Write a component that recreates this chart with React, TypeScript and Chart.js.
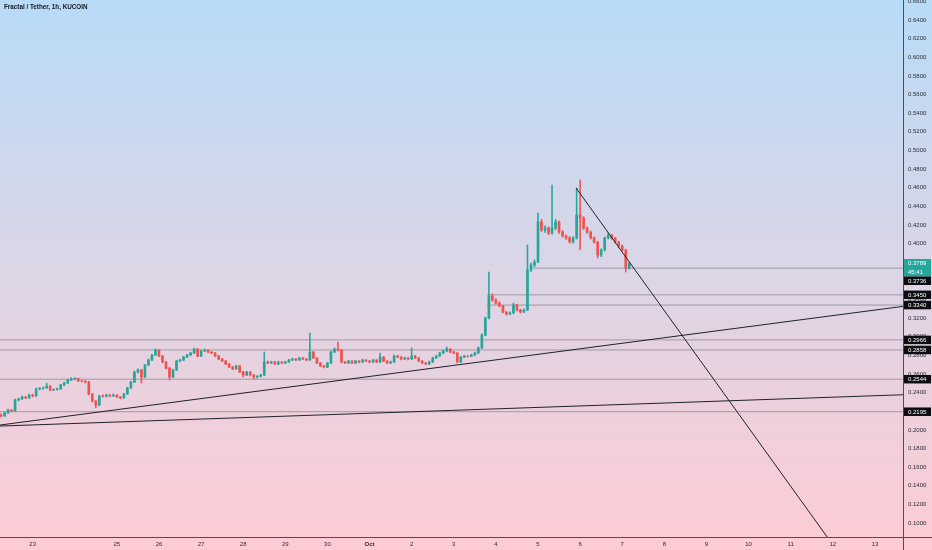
import React, { useEffect, useRef } from 'react';
import { Chart, registerables } from 'chart.js';

Chart.register(...registerables);

const TITLE = 'Fractal / Tether, 1h, KUCOIN';

// time axis: hours from Sep 23 00:00
const X_MIN = -18.6;
const X_MAX = 496;
const Y_MIN = 0.085;
const Y_MAX = 0.6615;

const firstCandleHour = -18;
const candleHours = 2;

// [open, high, low, close]
const ohlc: [number, number, number, number][] = [
  [0.2160, 0.2172, 0.2140, 0.2149], [0.2149, 0.2190, 0.2145, 0.2181], [0.2181, 0.2222, 0.2176, 0.2213],
  [0.2213, 0.2220, 0.2195, 0.2203], [0.2203, 0.2330, 0.2198, 0.2321], [0.2321, 0.2342, 0.2310, 0.2332],
  [0.2332, 0.2362, 0.2325, 0.2353], [0.2353, 0.2360, 0.2335, 0.2342], [0.2342, 0.2385, 0.2338, 0.2374],
  [0.2374, 0.2380, 0.2355, 0.2364], [0.2364, 0.2448, 0.2360, 0.2439], [0.2439, 0.2455, 0.2430, 0.2445],
  [0.2445, 0.2460, 0.2436, 0.2450], [0.2450, 0.2503, 0.2445, 0.2471], [0.2471, 0.2476, 0.2420, 0.2428],
  [0.2428, 0.2442, 0.2420, 0.2432], [0.2432, 0.2448, 0.2425, 0.2439], [0.2439, 0.2490, 0.2434, 0.2482],
  [0.2482, 0.2512, 0.2475, 0.2503], [0.2503, 0.2545, 0.2498, 0.2535], [0.2535, 0.2560, 0.2528, 0.2546],
  [0.2546, 0.2562, 0.2538, 0.2550], [0.2550, 0.2556, 0.2518, 0.2525], [0.2525, 0.2535, 0.2515, 0.2522],
  [0.2522, 0.2530, 0.2505, 0.2514], [0.2514, 0.2520, 0.2375, 0.2385], [0.2385, 0.2392, 0.2298, 0.2310],
  [0.2310, 0.2318, 0.2235, 0.2267], [0.2267, 0.2372, 0.2260, 0.2364], [0.2364, 0.2375, 0.2350, 0.2360],
  [0.2360, 0.2384, 0.2352, 0.2374], [0.2374, 0.2380, 0.2355, 0.2364], [0.2364, 0.2385, 0.2358, 0.2374],
  [0.2374, 0.2380, 0.2345, 0.2353], [0.2353, 0.2360, 0.2335, 0.2342], [0.2342, 0.2392, 0.2338, 0.2385],
  [0.2385, 0.2458, 0.2380, 0.2450], [0.2450, 0.2522, 0.2445, 0.2514], [0.2514, 0.2630, 0.2508, 0.2621],
  [0.2621, 0.2655, 0.2612, 0.2643], [0.2643, 0.2650, 0.2503, 0.2568], [0.2568, 0.2705, 0.2560, 0.2696],
  [0.2696, 0.2760, 0.2690, 0.2750], [0.2750, 0.2812, 0.2742, 0.2804], [0.2804, 0.2870, 0.2798, 0.2857],
  [0.2857, 0.2862, 0.2785, 0.2793], [0.2793, 0.2800, 0.2720, 0.2729], [0.2729, 0.2736, 0.2655, 0.2664],
  [0.2664, 0.2672, 0.2535, 0.2568], [0.2568, 0.2650, 0.2560, 0.2643], [0.2643, 0.2748, 0.2636, 0.2739],
  [0.2739, 0.2760, 0.2730, 0.2750], [0.2750, 0.2790, 0.2742, 0.2782], [0.2782, 0.2812, 0.2775, 0.2804],
  [0.2804, 0.2834, 0.2797, 0.2825], [0.2825, 0.2879, 0.2818, 0.2868], [0.2868, 0.2874, 0.2785, 0.2793],
  [0.2793, 0.2856, 0.2786, 0.2847], [0.2847, 0.2868, 0.2840, 0.2857], [0.2857, 0.2863, 0.2828, 0.2836],
  [0.2836, 0.2842, 0.2818, 0.2825], [0.2825, 0.2830, 0.2786, 0.2793], [0.2793, 0.2800, 0.2753, 0.2761],
  [0.2761, 0.2768, 0.2732, 0.2739], [0.2739, 0.2745, 0.2700, 0.2707], [0.2707, 0.2714, 0.2668, 0.2675],
  [0.2675, 0.2682, 0.2646, 0.2654], [0.2654, 0.2695, 0.2648, 0.2686], [0.2686, 0.2692, 0.2613, 0.2621],
  [0.2621, 0.2628, 0.2568, 0.2589], [0.2589, 0.2630, 0.2582, 0.2621], [0.2621, 0.2626, 0.2580, 0.2589],
  [0.2589, 0.2595, 0.2546, 0.2568], [0.2568, 0.2584, 0.2556, 0.2575], [0.2575, 0.2598, 0.2568, 0.2589],
  [0.2589, 0.2836, 0.2582, 0.2729], [0.2729, 0.2740, 0.2710, 0.2718], [0.2718, 0.2738, 0.2712, 0.2729],
  [0.2729, 0.2735, 0.2700, 0.2707], [0.2707, 0.2738, 0.2702, 0.2729], [0.2729, 0.2736, 0.2710, 0.2718],
  [0.2718, 0.2738, 0.2712, 0.2729], [0.2729, 0.2758, 0.2723, 0.2750], [0.2750, 0.2770, 0.2744, 0.2761],
  [0.2761, 0.2768, 0.2742, 0.2750], [0.2750, 0.2780, 0.2745, 0.2772], [0.2772, 0.2778, 0.2753, 0.2761],
  [0.2761, 0.2766, 0.2742, 0.2750], [0.2750, 0.3040, 0.2745, 0.2836], [0.2836, 0.2842, 0.2765, 0.2772],
  [0.2772, 0.2778, 0.2710, 0.2718], [0.2718, 0.2724, 0.2678, 0.2686], [0.2686, 0.2692, 0.2666, 0.2675],
  [0.2675, 0.2726, 0.2668, 0.2718], [0.2718, 0.2845, 0.2712, 0.2836], [0.2836, 0.2878, 0.2830, 0.2868],
  [0.2868, 0.2943, 0.2848, 0.2857], [0.2857, 0.2862, 0.2720, 0.2729], [0.2729, 0.2735, 0.2710, 0.2718],
  [0.2718, 0.2748, 0.2712, 0.2739], [0.2739, 0.2745, 0.2710, 0.2718], [0.2718, 0.2748, 0.2712, 0.2739],
  [0.2739, 0.2745, 0.2720, 0.2729], [0.2729, 0.2758, 0.2722, 0.2750], [0.2750, 0.2756, 0.2732, 0.2739],
  [0.2739, 0.2745, 0.2720, 0.2729], [0.2729, 0.2758, 0.2722, 0.2750], [0.2750, 0.2755, 0.2720, 0.2729],
  [0.2729, 0.2825, 0.2722, 0.2782], [0.2782, 0.2788, 0.2732, 0.2739], [0.2739, 0.2745, 0.2710, 0.2718],
  [0.2718, 0.2738, 0.2712, 0.2729], [0.2729, 0.2802, 0.2722, 0.2793], [0.2793, 0.2800, 0.2775, 0.2782],
  [0.2782, 0.2788, 0.2752, 0.2761], [0.2761, 0.2780, 0.2755, 0.2772], [0.2772, 0.2778, 0.2752, 0.2761],
  [0.2761, 0.2879, 0.2755, 0.2793], [0.2793, 0.2800, 0.2765, 0.2772], [0.2772, 0.2778, 0.2732, 0.2739],
  [0.2739, 0.2745, 0.2710, 0.2718], [0.2718, 0.2724, 0.2700, 0.2707], [0.2707, 0.2738, 0.2702, 0.2729],
  [0.2729, 0.2780, 0.2722, 0.2772], [0.2772, 0.2802, 0.2765, 0.2793], [0.2793, 0.2834, 0.2786, 0.2825],
  [0.2825, 0.2856, 0.2818, 0.2847], [0.2847, 0.2890, 0.2840, 0.2868], [0.2868, 0.2874, 0.2828, 0.2836],
  [0.2836, 0.2842, 0.2818, 0.2825], [0.2825, 0.2830, 0.2718, 0.2729], [0.2729, 0.2790, 0.2722, 0.2782],
  [0.2782, 0.2800, 0.2776, 0.2793], [0.2793, 0.2798, 0.2782, 0.2790], [0.2790, 0.2812, 0.2785, 0.2804],
  [0.2804, 0.2834, 0.2798, 0.2825], [0.2825, 0.2888, 0.2820, 0.2879], [0.2879, 0.3030, 0.2872, 0.3018],
  [0.3018, 0.3210, 0.3010, 0.3201], [0.3201, 0.3695, 0.3190, 0.3437], [0.3437, 0.3460, 0.3380, 0.3394],
  [0.3394, 0.3410, 0.3350, 0.3362], [0.3362, 0.3375, 0.3320, 0.3330], [0.3330, 0.3338, 0.3255, 0.3265],
  [0.3265, 0.3272, 0.3232, 0.3244], [0.3244, 0.3268, 0.3236, 0.3255], [0.3255, 0.3362, 0.3248, 0.3340],
  [0.3340, 0.3348, 0.3278, 0.3287], [0.3287, 0.3295, 0.3255, 0.3265], [0.3265, 0.3300, 0.3258, 0.3287],
  [0.3287, 0.3985, 0.3280, 0.3716], [0.3716, 0.3790, 0.3700, 0.3770], [0.3770, 0.3825, 0.3750, 0.3802],
  [0.3802, 0.4328, 0.3795, 0.4232], [0.4232, 0.4260, 0.4130, 0.4146], [0.4146, 0.4190, 0.4120, 0.4167],
  [0.4167, 0.4180, 0.4095, 0.4113], [0.4113, 0.4629, 0.4100, 0.4167], [0.4167, 0.4260, 0.4150, 0.4232],
  [0.4232, 0.4245, 0.4110, 0.4124], [0.4124, 0.4140, 0.4070, 0.4081], [0.4081, 0.4095, 0.4045, 0.4060],
  [0.4060, 0.4075, 0.4005, 0.4017], [0.4017, 0.4075, 0.4005, 0.4060], [0.4060, 0.4597, 0.4050, 0.4307],
  [0.4307, 0.4682, 0.3935, 0.4274], [0.4274, 0.4290, 0.4150, 0.4167], [0.4167, 0.4180, 0.4110, 0.4124],
  [0.4124, 0.4135, 0.4050, 0.4060], [0.4060, 0.4072, 0.4005, 0.4017], [0.4017, 0.4025, 0.3845, 0.3877],
  [0.3877, 0.3945, 0.3860, 0.3931], [0.3931, 0.4070, 0.3920, 0.4060], [0.4060, 0.4115, 0.4050, 0.4092],
  [0.4092, 0.4100, 0.4045, 0.4060], [0.4060, 0.4068, 0.4005, 0.4017], [0.4017, 0.4025, 0.3960, 0.3974],
  [0.3974, 0.3985, 0.3920, 0.3931], [0.3931, 0.3940, 0.3695, 0.3738], [0.3738, 0.3800, 0.3725, 0.3789],
];

const dayTickHours = [0, 48, 72, 96, 120, 144, 168, 192, 216, 240, 264, 288, 312, 336, 360, 384, 408, 432, 456, 480];
const dayTickLabels = ['23', '25', '26', '27', '28', '29', '30', 'Oct', '2', '3', '4', '5', '6', '7', '8', '9', '10', '11', '12', '13'];

const priceTicks = [
  0.10, 0.12, 0.14, 0.16, 0.18, 0.20, 0.22, 0.24, 0.26, 0.28, 0.30, 0.32, 0.34, 0.36, 0.38,
  0.40, 0.42, 0.44, 0.46, 0.48, 0.50, 0.52, 0.54, 0.56, 0.58, 0.60, 0.62, 0.64, 0.66,
];

// horizontal levels (price, start hour)
const levelPrices = [0.3736, 0.3450, 0.3340, 0.2966, 0.2858, 0.2544, 0.2195];
const levelStartHours = [285, 259, 259, X_MIN, X_MIN, X_MIN, X_MIN];

// trend lines
const trendStartHours = [X_MIN, X_MIN, 309.7];
const trendStartPrices = [0.2052, 0.2041, 0.4597];
const trendEndHours = [X_MAX, X_MAX, 452.8];
const trendEndPrices = [0.3326, 0.2377, 0.085];

const lastPrice = 0.3789;
const countdown = '45:41';

const UP = '#26a69a';
const DOWN = '#ef5350';
const FONT = '"Liberation Sans", Arial, sans-serif';

export default function App() {
  const ref = useRef<HTMLCanvasElement | null>(null);

  useEffect(() => {
    document.body.style.margin = '0';
    const canvas = ref.current;
    if (!canvas) return;

    const hours = ohlc.map((_, i) => firstCandleHour + i * candleHours);
    const colors = ohlc.map((c) => (c[3] >= c[0] ? UP : DOWN));

    const bgPlugin = {
      id: 'bgGradient',
      beforeDraw(chart: any) {
        const { ctx, width, height } = chart;
        const g = ctx.createLinearGradient(0, 0, 0, height);
        g.addColorStop(0, '#b8dbf7');
        g.addColorStop(0.5, '#dcd5e6');
        g.addColorStop(1, '#fecbd3');
        ctx.save();
        ctx.fillStyle = g;
        ctx.fillRect(0, 0, width, height);
        ctx.restore();
      },
    };

    const overlayPlugin = {
      id: 'overlay',
      afterDraw(chart: any) {
        const { ctx, width, height, chartArea } = chart;
        const yScale = chart.scales.y;
        ctx.save();
        // axis borders
        ctx.strokeStyle = '#4a4e59';
        ctx.lineWidth = 1;
        const ax = Math.round(chartArea.right) + 0.5;
        const ay = Math.round(chartArea.bottom) + 0.5;
        ctx.beginPath();
        ctx.moveTo(ax, 0);
        ctx.lineTo(ax, height);
        ctx.moveTo(0, ay);
        ctx.lineTo(width, ay);
        ctx.stroke();

        // price label boxes
        const items = [
          { price: lastPrice, color: UP, lines: [lastPrice.toFixed(4), countdown] },
          ...levelPrices.map((p) => ({ price: p, color: '#0c0d10', lines: [p.toFixed(4)] })),
        ].sort((a, b) => b.price - a.price);
        const lineH = 8.5;
        let prevBottom = -Infinity;
        const left = chartArea.right + 1;
        ctx.font = `6px ${FONT}`;
        ctx.textBaseline = 'middle';
        ctx.textAlign = 'left';
        for (const it of items) {
          const py = yScale.getPixelForValue(it.price);
          let top = py - lineH / 2;
          if (top < prevBottom) top = prevBottom;
          const h = lineH * it.lines.length + (it.lines.length > 1 ? 0.5 : 0);
          ctx.fillStyle = it.color;
          ctx.fillRect(left, top, width - left - 1, h);
          ctx.fillStyle = '#ffffff';
          it.lines.forEach((t, k) => {
            ctx.fillText(t, left + 4, top + lineH / 2 + k * lineH + 0.5);
          });
          prevBottom = top + h;
        }

        // title
        ctx.fillStyle = '#131722';
        ctx.font = `bold 6.3px ${FONT}`;
        ctx.textBaseline = 'middle';
        ctx.textAlign = 'left';
        ctx.fillText(TITLE, 4, 7);
        ctx.restore();
      },
    };

    const lineDs = (pts: { x: number; y: number }[], color: string, order: number) => ({
      type: 'line' as const,
      data: pts,
      borderColor: color,
      borderWidth: 1,
      pointRadius: 0,
      fill: false,
      tension: 0,
      order,
    });

    const datasets: any[] = [];
    levelPrices.forEach((p, i) => {
      datasets.push(
        lineDs(
          [
            { x: levelStartHours[i], y: p },
            { x: X_MAX, y: p },
          ],
          'rgba(105,105,118,0.55)',
          5
        )
      );
    });
    datasets.push({
      type: 'bar',
      data: ohlc.map((c, i) => ({ x: hours[i], y: [c[2], c[1]] })),
      backgroundColor: colors,
      barThickness: 0.9,
      grouped: false,
      borderWidth: 0,
      order: 4,
    });
    datasets.push({
      type: 'bar',
      data: ohlc.map((c, i) => ({ x: hours[i], y: [c[0], c[3]] })),
      backgroundColor: colors,
      barThickness: 2,
      grouped: false,
      borderWidth: 0,
      order: 3,
    });
    trendStartHours.forEach((h, i) => {
      datasets.push(
        lineDs(
          [
            { x: h, y: trendStartPrices[i] },
            { x: trendEndHours[i], y: trendEndPrices[i] },
          ],
          '#1e222d',
          1
        )
      );
    });

    const chart = new Chart(canvas, {
      type: 'bar',
      data: { datasets },
      plugins: [bgPlugin, overlayPlugin],
      options: {
        animation: false,
        responsive: false,
        maintainAspectRatio: false,
        layout: { padding: 0 },
        plugins: { legend: { display: false }, tooltip: { enabled: false }, title: { display: false } },
        scales: {
          x: {
            type: 'linear',
            min: X_MIN,
            max: X_MAX,
            offset: false,
            grid: { display: false, drawTicks: false },
            border: { display: false },
            afterBuildTicks: (scale: any) => {
              scale.ticks = dayTickHours.map((v) => ({ value: v }));
            },
            afterFit: (scale: any) => {
              scale.height = 13;
              scale.paddingLeft = 0;
              scale.paddingRight = 0;
            },
            ticks: {
              autoSkip: false,
              maxRotation: 0,
              padding: 3.5,
              color: '#2a2e39',
              font: (ctx: any) => ({
                family: FONT,
                size: 6,
                weight: ctx.index === 7 ? 'bold' : 'normal',
              }),
              callback: (_v: any, i: number) => dayTickLabels[i],
            },
          },
          y: {
            type: 'linear',
            position: 'right',
            min: Y_MIN,
            max: Y_MAX,
            grid: { display: false, drawTicks: false },
            border: { display: false },
            afterBuildTicks: (scale: any) => {
              scale.ticks = priceTicks.map((v) => ({ value: v }));
            },
            afterFit: (scale: any) => {
              scale.width = 29;
              scale.paddingTop = 0;
              scale.paddingBottom = 0;
            },
            ticks: {
              padding: 5,
              color: '#2a2e39',
              font: { family: FONT, size: 6 },
              callback: (v: any) => Number(v).toFixed(4),
            },
          },
        },
      } as any,
    });

    return () => chart.destroy();
  }, []);

  return (
    <div style={{ width: 932, height: 550 }}>
      <canvas ref={ref} width={932} height={550} style={{ display: 'block' }} />
    </div>
  );
}
